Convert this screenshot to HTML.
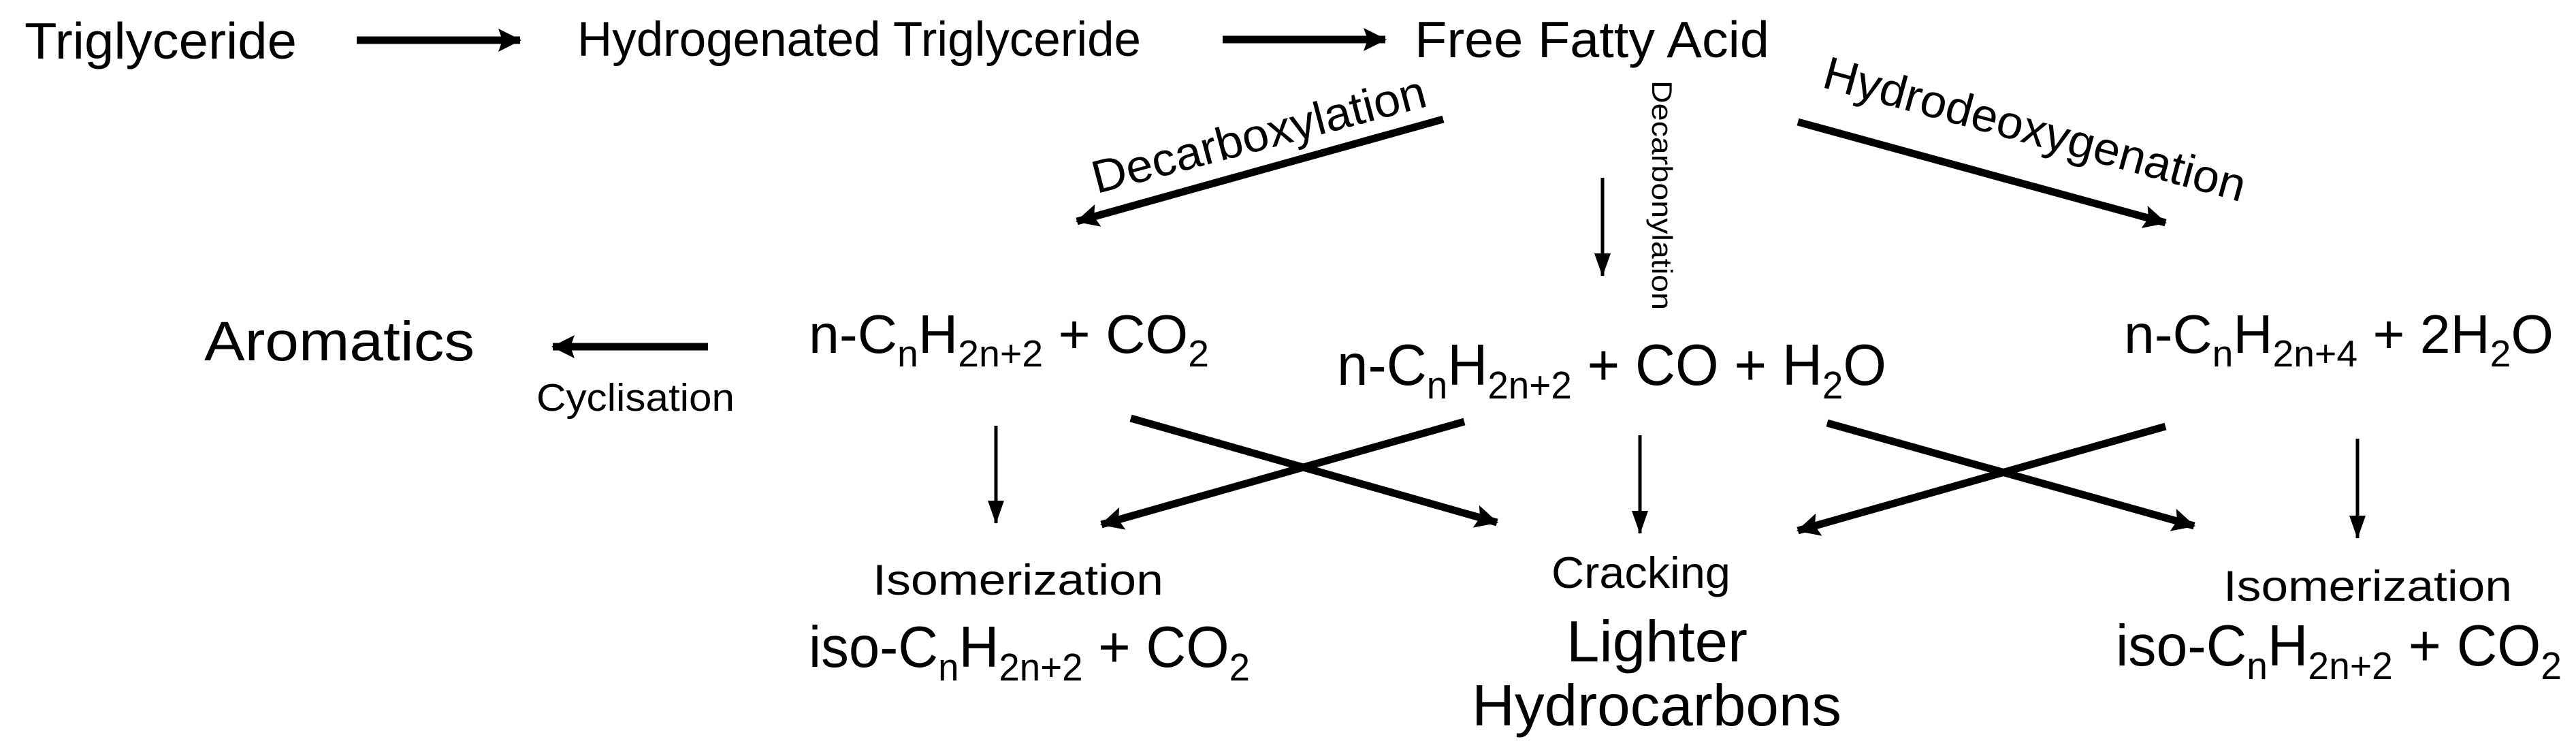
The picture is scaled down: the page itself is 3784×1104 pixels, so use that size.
<!DOCTYPE html>
<html><head><meta charset="utf-8"><style>
html,body{margin:0;padding:0;background:#fff;}
svg{display:block;}
text{font-family:"Liberation Sans",sans-serif;fill:#000;}
</style></head><body>
<svg width="3784" height="1104" viewBox="0 0 3784 1104" xmlns="http://www.w3.org/2000/svg">
<defs>
<marker id="hk" markerUnits="userSpaceOnUse" viewBox="0 -18 34 36" markerWidth="34" markerHeight="36" refX="32" refY="0" orient="auto"><path d="M0,-17 L34,0 L0,17 L6,0 Z" fill="#000"/></marker>
<marker id="hn" markerUnits="userSpaceOnUse" viewBox="0 -13 34 26" markerWidth="34" markerHeight="26" refX="33" refY="0" orient="auto"><path d="M0,-12 L34,0 L0,12 Z" fill="#000"/></marker>
</defs>
<g stroke="#000" stroke-width="11" fill="none">
<line x1="524" y1="59" x2="764" y2="59" marker-end="url(#hk)"/>
<line x1="1796" y1="58" x2="2035" y2="58" marker-end="url(#hk)"/>
<line x1="2120" y1="175" x2="1582" y2="325" marker-end="url(#hk)"/>
<line x1="2641" y1="179" x2="3181" y2="327" marker-end="url(#hk)"/>
<line x1="1040" y1="509" x2="812" y2="509" marker-end="url(#hk)"/>
<line x1="1661" y1="614" x2="2199" y2="767" marker-end="url(#hk)"/>
<line x1="2151" y1="619" x2="1618" y2="770" marker-end="url(#hk)"/>
<line x1="2684" y1="621" x2="3223" y2="772" marker-end="url(#hk)"/>
<line x1="3181" y1="626" x2="2641" y2="779" marker-end="url(#hk)"/>
</g>
<g stroke="#000" stroke-width="5" fill="none">
<line x1="2354" y1="261" x2="2354" y2="405" marker-end="url(#hn)"/>
<line x1="1463" y1="625" x2="1463" y2="768" marker-end="url(#hn)"/>
<line x1="2409" y1="639" x2="2409" y2="783" marker-end="url(#hn)"/>
<line x1="3463" y1="644" x2="3463" y2="790" marker-end="url(#hn)"/>
</g>

<text x="36" y="86" font-size="75" textLength="400" lengthAdjust="spacingAndGlyphs">Triglyceride</text>
<text x="848" y="82" font-size="71" textLength="828" lengthAdjust="spacingAndGlyphs">Hydrogenated Triglyceride</text>
<text x="2078" y="84" font-size="75" textLength="521" lengthAdjust="spacingAndGlyphs">Free Fatty Acid</text>

<text transform="translate(1855,220) rotate(-14.8)" text-anchor="middle" font-size="68" textLength="505" lengthAdjust="spacingAndGlyphs">Decarboxylation</text>
<text transform="translate(2983,212) rotate(15.3)" text-anchor="middle" font-size="68" textLength="640" lengthAdjust="spacingAndGlyphs">Hydrodeoxygenation</text>
<text transform="translate(2427,118) rotate(90)" font-size="42" textLength="337" lengthAdjust="spacingAndGlyphs">Decarbonylation</text>

<text x="300" y="529" font-size="82" textLength="397" lengthAdjust="spacingAndGlyphs">Aromatics</text>
<text x="788" y="603" font-size="57" textLength="291" lengthAdjust="spacingAndGlyphs">Cyclisation</text>

<text x="1188" y="518" font-size="80" textLength="588" lengthAdjust="spacingAndGlyphs">n-C<tspan font-size="55" dy="20">n</tspan><tspan dy="-20">H</tspan><tspan font-size="55" dy="20">2n+2</tspan><tspan dy="-20"> + CO</tspan><tspan font-size="55" dy="20">2</tspan></text>
<text x="1964" y="565" font-size="85" textLength="807" lengthAdjust="spacingAndGlyphs">n-C<tspan font-size="57" dy="20">n</tspan><tspan dy="-20">H</tspan><tspan font-size="57" dy="20">2n+2</tspan><tspan dy="-20"> + CO + H</tspan><tspan font-size="57" dy="20">2</tspan><tspan dy="-20">O</tspan></text>
<text x="3120" y="518" font-size="80" textLength="631" lengthAdjust="spacingAndGlyphs">n-C<tspan font-size="55" dy="20">n</tspan><tspan dy="-20">H</tspan><tspan font-size="55" dy="20">2n+4</tspan><tspan dy="-20"> + 2H</tspan><tspan font-size="55" dy="20">2</tspan><tspan dy="-20">O</tspan></text>

<text x="1282" y="873" font-size="63" textLength="427" lengthAdjust="spacingAndGlyphs">Isomerization</text>
<text x="1188" y="979" font-size="85" textLength="648" lengthAdjust="spacingAndGlyphs">iso-C<tspan font-size="57" dy="20">n</tspan><tspan dy="-20">H</tspan><tspan font-size="57" dy="20">2n+2</tspan><tspan dy="-20"> + CO</tspan><tspan font-size="57" dy="20">2</tspan></text>

<text x="2279" y="863" font-size="65" textLength="263" lengthAdjust="spacingAndGlyphs">Cracking</text>
<text x="2301" y="971" font-size="85" textLength="266" lengthAdjust="spacingAndGlyphs">Lighter</text>
<text x="2162" y="1065" font-size="85" textLength="543" lengthAdjust="spacingAndGlyphs">Hydrocarbons</text>

<text x="3266" y="882" font-size="63" textLength="424" lengthAdjust="spacingAndGlyphs">Isomerization</text>
<text x="3108" y="977" font-size="85" textLength="655" lengthAdjust="spacingAndGlyphs">iso-C<tspan font-size="57" dy="20">n</tspan><tspan dy="-20">H</tspan><tspan font-size="57" dy="20">2n+2</tspan><tspan dy="-20"> + CO</tspan><tspan font-size="57" dy="20">2</tspan></text>
</svg>
</body></html>
